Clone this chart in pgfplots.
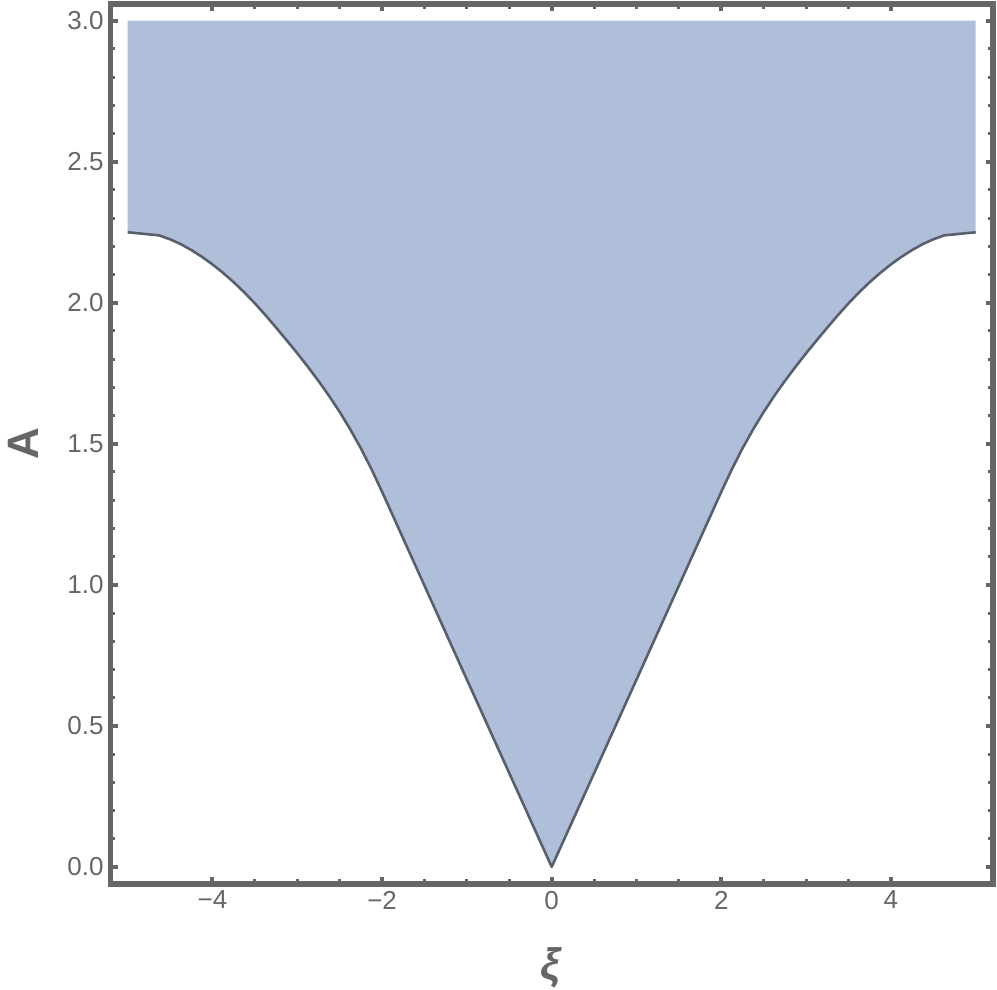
\documentclass[border=0pt]{standalone}
\usepackage{fontspec}
\setmainfont{Liberation Sans}
\usepackage{pgfplots}
\usepackage{pgfplotstable}
\pgfplotsset{compat=1.18}
\definecolor{framegray}{RGB}{102,102,102}
\definecolor{regionfill}{RGB}{175,191,218}
\definecolor{edgegray}{RGB}{88,96,110}

% boundary of the region
\pgfplotstableread{
xi A
-5 2.25
-4.63 2.239
-4.5 2.225
-4.375 2.208
-4.25 2.187
-4.125 2.163
-4 2.136
-3.875 2.106
-3.75 2.073
-3.625 2.037
-3.5 1.998
-3.375 1.956
-3.25 1.912
-3.125 1.867
-3 1.821
-2.875 1.773
-2.75 1.723
-2.625 1.670
-2.5 1.613
-2.375 1.551
-2.25 1.484
-2.125 1.410
-2 1.330
-1.5 0.997
-1 0.664
-0.5 0.332
0 0
0.5 0.332
1 0.664
1.5 0.997
2 1.330
2.125 1.410
2.25 1.484
2.375 1.551
2.5 1.613
2.625 1.670
2.75 1.723
2.875 1.773
3 1.821
3.125 1.867
3.25 1.912
3.375 1.956
3.5 1.998
3.625 2.037
3.75 2.073
3.875 2.106
4 2.136
4.125 2.163
4.25 2.187
4.375 2.208
4.5 2.225
4.63 2.239
5 2.25
}\boundary

\begin{document}
\begin{tikzpicture}
\begin{axis}[
    scale only axis, width=441pt, height=440pt,
    xmin=-5.2, xmax=5.2, ymin=-0.06, ymax=3.06,
    axis line style={framegray, line width=2.8pt},
    xtick={-4,-2,0,2,4}, xticklabels={−4,−2,0,2,4},
    ytick={0,0.5,1,1.5,2,2.5,3}, yticklabels={0.0,0.5,1.0,1.5,2.0,2.5,3.0},
    minor x tick num=3, minor y tick num=4,
    tick align=inside,
    major tick style={framegray, line width=2pt},
    minor tick style={framegray, line width=1.5pt},
    major tick length=3.6pt, minor tick length=2.4pt,
    tick label style={font=\fontsize{13}{15}\selectfont, text=framegray},
    xlabel={\textbf{\textit{ξ}}}, ylabel={\textbf{A}},
    label style={font=\fontsize{22}{26}\selectfont, text=framegray},
    xlabel style={at={(axis description cs:0.5,-0.096)}, anchor=center},
    ylabel style={at={(axis description cs:-0.099,0.5)}, anchor=center},
]
% region above the boundary, up to A = 3
\addplot[fill=regionfill, draw=none] table[x=xi, y=A] {\boundary}
  -- (axis cs:5,3) -- (axis cs:-5,3) -- cycle;
% boundary
\addplot[edgegray, line width=1.3pt, line join=round] table[x=xi, y=A] {\boundary};
\coordinate (bbsw) at (rel axis cs:0,0);
\coordinate (bbne) at (rel axis cs:1,1);
\end{axis}
\pgfresetboundingbox
\path[use as bounding box] ([shift={(-55.35pt,-52.7pt)}]bbsw) rectangle ([shift={(2.15pt,1.9pt)}]bbne);
\end{tikzpicture}
\end{document}
